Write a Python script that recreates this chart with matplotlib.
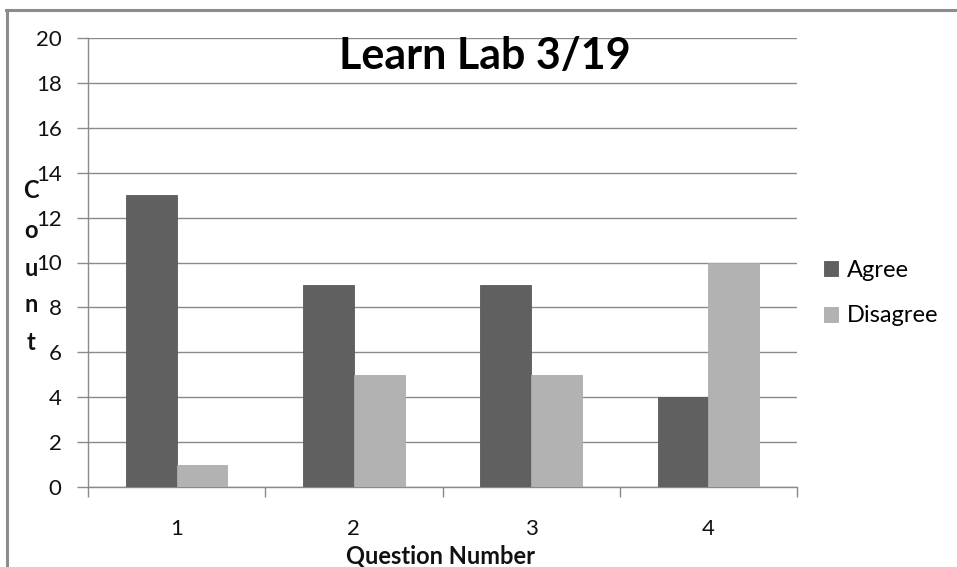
import matplotlib
matplotlib.use("Agg")
import matplotlib.pyplot as plt
import numpy as np
from matplotlib.lines import Line2D

plt.rcParams['font.family'] = ['Lato', 'DejaVu Sans']

questions = ["1", "2", "3", "4"]
agree = [13, 9, 9, 4]
disagree = [1, 5, 5, 10]
series_names = ["Agree", "Disagree"]
y_ticks = list(range(0, 21, 2))

W, H = 957, 567
fig = plt.figure(figsize=(W / 100, H / 100), dpi=100)
fig.patch.set_facecolor("white")

# outer chart frame (top and left edges visible)
fig.add_artist(Line2D([6 / W, 1], [1 - 9.5 / H, 1 - 9.5 / H], color="#8c8c8c", lw=2.2))
fig.add_artist(Line2D([6.5 / W, 6.5 / W], [0, 1 - 9.5 / H], color="#8c8c8c", lw=2.2))

ax = fig.add_axes([88 / W, 1 - 487 / H, (797 - 88) / W, (487 - 38) / H])
grid_col = "#8a8a8a"

x = np.arange(len(questions))
w = 1 / 3.5
ax.bar(x - w / 2, agree, width=w, color="#606060", edgecolor="#5a5a5a", lw=0.6, zorder=3, label=series_names[0])
ax.bar(x + w / 2, disagree, width=w, color="#b2b2b2", edgecolor="#acacac", lw=0.6, zorder=3, label=series_names[1])

ax.set_xlim(-0.5, len(questions) - 0.5)
ax.set_ylim(0, 20)
ax.set_yticks(y_ticks)
ax.yaxis.grid(True, color=grid_col, lw=1.0, zorder=0)
ax.set_axisbelow(True)

for s in ["top", "right"]:
    ax.spines[s].set_visible(False)
for s in ["left", "bottom"]:
    ax.spines[s].set_color(grid_col)
    ax.spines[s].set_linewidth(1.0)

ax.tick_params(axis="y", length=8, width=1.0, color=grid_col, pad=11, labelsize=16, labelcolor="#111111")

# category boundaries as major ticks, category labels on minor ticks
ax.set_xticks(np.arange(-0.5, len(questions), 1.0))
ax.set_xticklabels([])
ax.set_xticks(x, minor=True)
ax.set_xticklabels(questions, minor=True)
ax.tick_params(axis="x", which="major", length=7, width=1.0, color=grid_col)
ax.tick_params(axis="x", which="minor", length=0, pad=23, labelsize=16, labelcolor="#111111")

# title inside the plot area
fig.text(485 / W, 1 - 56 / H, "Learn Lab 3/19", fontsize=31, fontweight="bold",
         ha="center", va="center", color="black")

# x-axis title
fig.text(441 / W, 1 - 556 / H, "Question Number", fontsize=17, fontweight="bold",
         ha="center", va="center", color="#111111")

# stacked y-axis title
for letter, yc in zip("Count", [190, 230, 268, 305, 342]):
    fig.text(31 / W, 1 - yc / H, letter, fontsize=17, fontweight="bold",
             ha="center", va="center", color="#111111")

leg = fig.legend(loc="center left", bbox_to_anchor=(824 / W, 1 - 293 / H), frameon=False,
                 fontsize=17, handlelength=0.6, handleheight=0.6, handletextpad=0.35,
                 labelspacing=1.05, borderaxespad=0, borderpad=0)

fig.savefig("out.png", dpi=100, facecolor="white")
